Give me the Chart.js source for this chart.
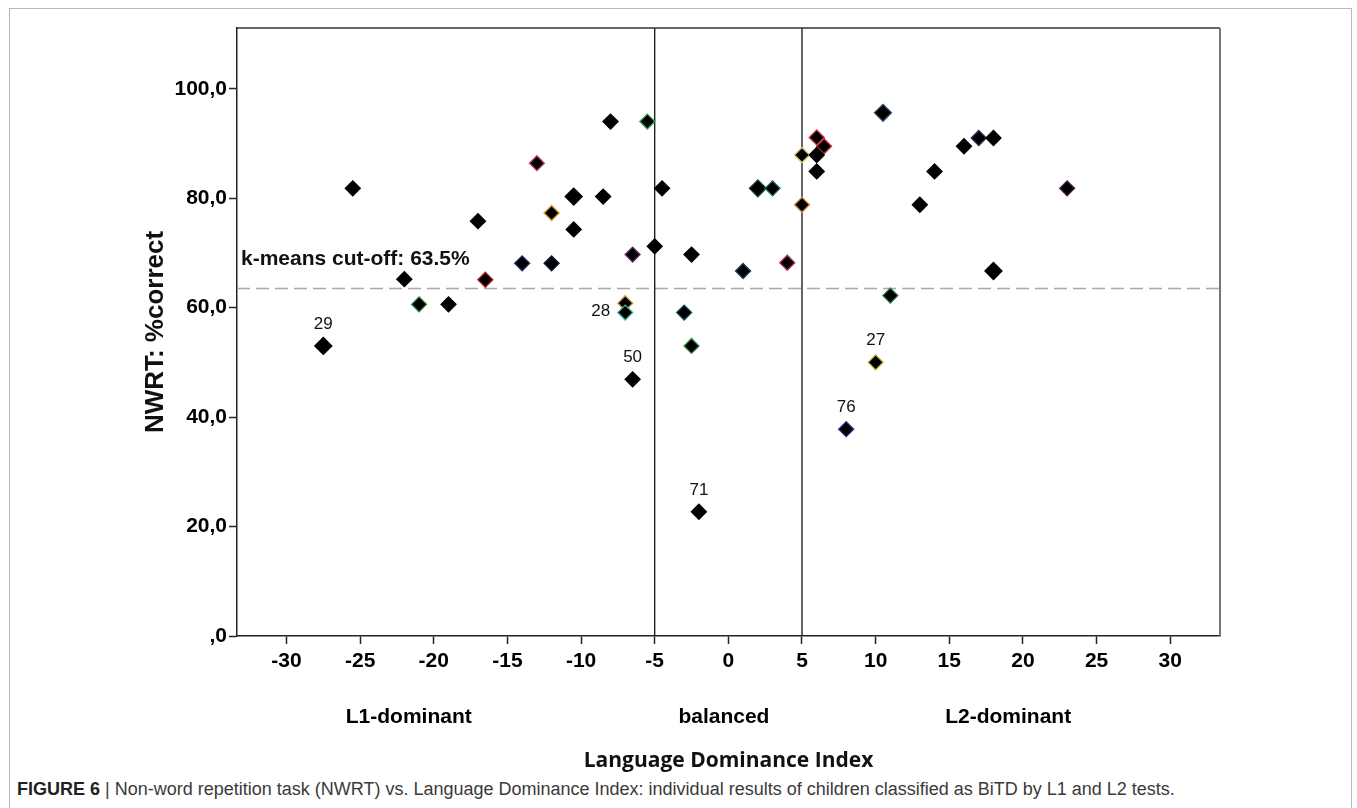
<!DOCTYPE html>
<html><head><meta charset="utf-8">
<script src="https://cdn.jsdelivr.net/npm/chart.js@4.4.0/dist/chart.umd.min.js"></script>
<style>
html,body{margin:0;padding:0;background:#fff;width:1357px;height:808px;overflow:hidden;}
#frame{position:absolute;left:9px;top:8px;width:1343px;height:830px;border:1px solid #b8b8b8;box-sizing:border-box;}
#wrap{position:absolute;left:0;top:0;width:1357px;height:775px;}
#caption{position:absolute;left:17px;top:779px;font-family:"Liberation Sans",Arial,sans-serif;font-size:18px;color:#3a3a3a;white-space:nowrap;}
#caption b{color:#222;}
</style></head>
<body>
<div id="frame"></div>
<div id="wrap"><canvas id="c"></canvas></div>
<div id="caption"><b>FIGURE 6</b> | Non-word repetition task (NWRT) vs. Language Dominance Index: individual results of children classified as BiTD by L1 and L2 tests.</div>
<script>
// ---- data ----
const ldi  = [-27.5,-25.5,-22,-21,-19,-17,-16.5,-14,-13,-12,-12,-10.5,-10.5,-8.5,-8,-7,-7,-6.5,-6.5,-5.5,-5,-4.5,-3,-2.5,-2.5,-2,1,2,3,4,5,5,6,6.5,6,6,8,10,10.5,11,13,14,16,17,18,18,23];
const nwrt = [53,81.8,65.2,60.6,60.6,75.8,65.1,68.1,86.4,77.3,68.1,80.3,74.3,80.3,94,60.8,59.1,69.7,46.9,94,71.2,81.8,59.1,69.7,53,22.7,66.7,81.8,81.8,68.2,87.9,78.8,91.1,89.5,87.9,84.9,37.8,50,95.6,62.2,78.8,84.9,89.5,91,91,66.7,81.8];
const caseIds = ['29','','','','','','','','','','','','','','','','28','','50','','','','','','','71','','','','','','','','','','','76','27','','','','','','','','',''];
const groupEdge = ['#000','#000','#000','#2e8b3e','#000','#000','#b02020','#1c2d6e','#c04070','#d09a30','#0a1a3a','#000','#000','#000','#000','#c8a040','#40b0b0','#6a2a6a','#000','#3a9a4a','#000','#000','#1a4a5a','#000','#2e8b3e','#000','#1a3a4a','#1a4a2a','#2a6a6a','#b03050','#d0c060','#d09040','#d03040','#d03040','#000','#000','#2a2a9a','#c8b040','#2a4a6a','#2e7a3e','#000','#000','#000','#2a2a5a','#000','#000','#5a2050'];
const xTicks = [-30,-25,-20,-15,-10,-5,0,5,10,15,20,25,30];
const yTicks = [0,20,40,60,80,100];
const cutoff = 63.5;
const cutoffLabel = 'k-means cut-off: 63.5%';
const bandEdges = [-5, 5];
const regionNames = ['L1-dominant','balanced','L2-dominant'];
const regionCenters = [-21.7, -0.3, 19.0];
const xMin = -33.36, xMax = 33.38, yMin = 0, yMax = 111.1;

// ---- chart ----
const scatterPts = ldi.map((x,i)=>({x, y:nwrt[i]}));
const bigIdx = [0,11,38,45,27];
const radii = ldi.map((_,i)=> bigIdx.includes(i) ? 8.5 : 7.5);

const annot = {
  id:'annot',
  afterDatasetsDraw(chart){
    const {ctx, chartArea:a, scales:{x,y}} = chart;
    ctx.save();
    ctx.strokeStyle='#333'; ctx.lineWidth=1.5;
    ctx.beginPath(); ctx.moveTo(a.left, a.top); ctx.lineTo(a.right, a.top); ctx.stroke();
    ctx.strokeStyle='#777'; ctx.lineWidth=2;
    ctx.beginPath(); ctx.moveTo(a.right, a.top); ctx.lineTo(a.right, a.bottom); ctx.stroke();
    ctx.fillStyle='#111';
    ctx.font='bold 21px "Liberation Sans", Arial, sans-serif';
    ctx.textAlign='left'; ctx.textBaseline='alphabetic';
    ctx.fillText(cutoffLabel, a.left+4, y.getPixelForValue(cutoff)-23);
    const meta = chart.getDatasetMeta(0);
    ctx.font='17px "Liberation Sans", Arial, sans-serif';
    meta.data.forEach((el,i)=>{
      const t = caseIds[i]; if(!t) return;
      if (t==='28'){ ctx.textAlign='right'; ctx.textBaseline='middle'; ctx.fillText(t, el.x-15, el.y-1); }
      else { ctx.textAlign='center'; ctx.textBaseline='alphabetic'; ctx.fillText(t, el.x, el.y-17); }
    });
    ctx.font='bold 21px "Liberation Sans", Arial, sans-serif';
    ctx.textAlign='center'; ctx.textBaseline='middle'; ctx.fillStyle='#000';
    regionNames.forEach((n,i)=> ctx.fillText(n, x.getPixelForValue(regionCenters[i]), 717));
    ctx.restore();
  }
};

new Chart(document.getElementById('c'), {
  type:'scatter',
  data:{ datasets:[
    { data:scatterPts, pointStyle:'rectRot', pointRadius:radii, pointHoverRadius:radii,
      backgroundColor:'#000', borderColor:groupEdge, borderWidth:1.3, order:0 },
    { type:'line', data:[{x:xMin,y:cutoff},{x:xMax,y:cutoff}], borderColor:'#a9a9a9', borderWidth:1.6,
      borderDash:[13,6], pointRadius:0, order:2 },
    { type:'line', data:[{x:bandEdges[0],y:yMin},{x:bandEdges[0],y:yMax}], borderColor:'#111', borderWidth:1.3, pointRadius:0, order:1 },
    { type:'line', data:[{x:bandEdges[1],y:yMin},{x:bandEdges[1],y:yMax}], borderColor:'#111', borderWidth:1.3, pointRadius:0, order:1 }
  ]},
  options:{
    responsive:true, maintainAspectRatio:false, animation:false,
    layout:{ padding:{ left:0, top:28, right:137, bottom:0 } },
    plugins:{ legend:{display:false}, tooltip:{enabled:false} },
    scales:{
      x:{ type:'linear', min:xMin, max:xMax,
        afterBuildTicks(s){ s.ticks = xTicks.map(v=>({value:v})); },
        afterFit(s){ s.height = 775-636; },
        ticks:{ color:'#000', padding:5, font:{family:'"Liberation Sans", Arial, sans-serif', size:21, weight:'bold'},
          callback:v=>String(v) },
        grid:{ drawOnChartArea:false, drawTicks:true, tickLength:8, tickColor:'#222', tickWidth:1.5 },
        border:{ display:true, color:'#222', width:1.5 },
        title:{ display:true, text:'Language Dominance Index', color:'#111',
          font:{family:'"Open Sans", sans-serif', size:21, weight:'bold'}, padding:{top:0,bottom:1} }
      },
      y:{ type:'linear', min:yMin, max:yMax,
        afterBuildTicks(s){ s.ticks = yTicks.map(v=>({value:v})); },
        afterFit(s){ s.width = 237; },
        ticks:{ color:'#000', padding:2, font:{family:'"Liberation Sans", Arial, sans-serif', size:21, weight:'bold'},
          callback:v=> v===0 ? ',0' : v.toFixed(1).replace('.',',') },
        grid:{ drawOnChartArea:false, drawTicks:true, tickLength:8, tickColor:'#222', tickWidth:1.5 },
        border:{ display:true, color:'#222', width:1.5 },
        title:{ display:true, text:'NWRT: %correct', color:'#111',
          font:{family:'"Liberation Sans", Arial, sans-serif', size:26, weight:'bold'}, padding:{top:140,bottom:0} }
      }
    }
  },
  plugins:[annot]
});
</script>
</body></html>
